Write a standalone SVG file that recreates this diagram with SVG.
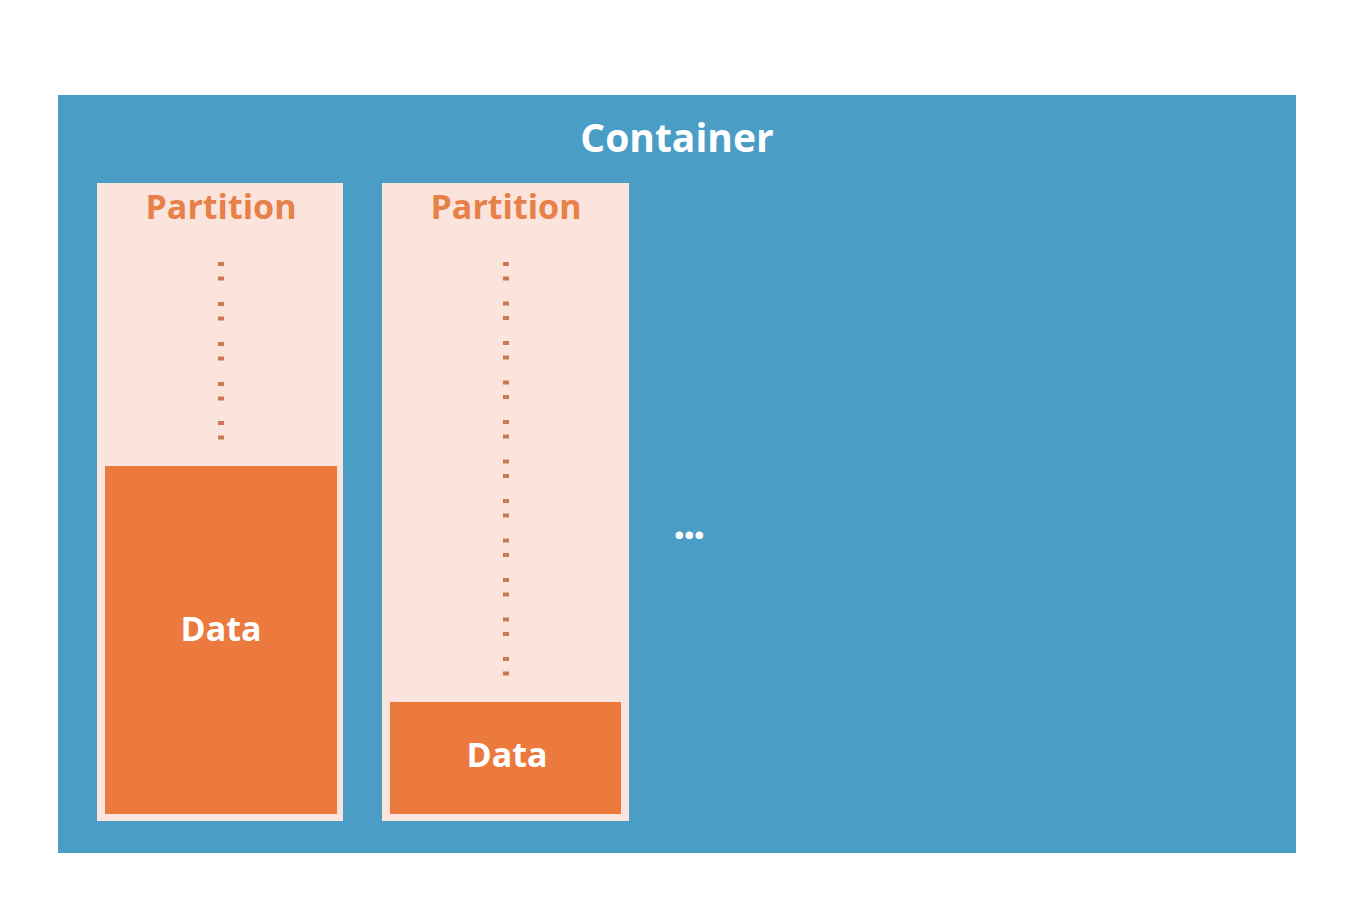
<svg xmlns="http://www.w3.org/2000/svg" width="1348" height="900" viewBox="0 0 1348 900">
  <defs>
    <style>
      .container { fill: #4A9DC4; }
      .part { fill: #FAE4DB; }
      .data { fill: #EC7A3E; }
      .dot { fill: #C97A55; }
      .t { font-family: "Open Sans", "Liberation Sans", sans-serif; font-weight: 700; text-anchor: middle; }
      .title { fill: #FFFFFF; font-size: 39px; }
      .ptitle { fill: #E8804A; font-size: 34px; }
      .dtitle { fill: #FFFFFF; font-size: 34px; }
    </style>
    <g id="pair">
      <rect class="dot" x="-3" y="-2" width="6" height="4"/>
      <rect class="dot" x="-3" y="12.5" width="6" height="4"/>
    </g>
  </defs>
  <rect width="1348" height="900" fill="#FFFFFF"/>
  <g id="container">
    <rect class="container" x="58" y="95" width="1238" height="758"/>
    <text class="t title" x="677" y="152">Container</text>
    <text x="688" y="539" font-family="'Open Sans', 'Liberation Sans', sans-serif" font-weight="700" font-size="44" fill="#FFFFFF" text-anchor="middle" letter-spacing="-2.5">...</text>
  </g>
  <g id="partition1">
    <rect class="part" x="97" y="183" width="246" height="638"/>
    <text class="t ptitle" x="221" y="219">Partition</text>
    <use href="#pair" x="221" y="264"/>
    <use href="#pair" x="221" y="304"/>
    <use href="#pair" x="221" y="344"/>
    <use href="#pair" x="221" y="384"/>
    <use href="#pair" x="221" y="423"/>
  </g>
  <g id="data1">
    <rect class="data" x="105" y="466" width="232" height="348"/>
    <text class="t dtitle" x="221" y="641">Data</text>
  </g>
  <g id="partition2">
    <rect class="part" x="382" y="183" width="247" height="638"/>
    <text class="t ptitle" x="506" y="219">Partition</text>
    <use href="#pair" x="506" y="264"/>
    <use href="#pair" x="506" y="303.5"/>
    <use href="#pair" x="506" y="343"/>
    <use href="#pair" x="506" y="382.5"/>
    <use href="#pair" x="506" y="422"/>
    <use href="#pair" x="506" y="461.5"/>
    <use href="#pair" x="506" y="501"/>
    <use href="#pair" x="506" y="540.5"/>
    <use href="#pair" x="506" y="580"/>
    <use href="#pair" x="506" y="619.5"/>
    <use href="#pair" x="506" y="659"/>
  </g>
  <g id="data2">
    <rect class="data" x="390" y="702" width="231" height="112"/>
    <text class="t dtitle" x="507" y="767">Data</text>
  </g>
  <g id="connectors"></g>
</svg>
